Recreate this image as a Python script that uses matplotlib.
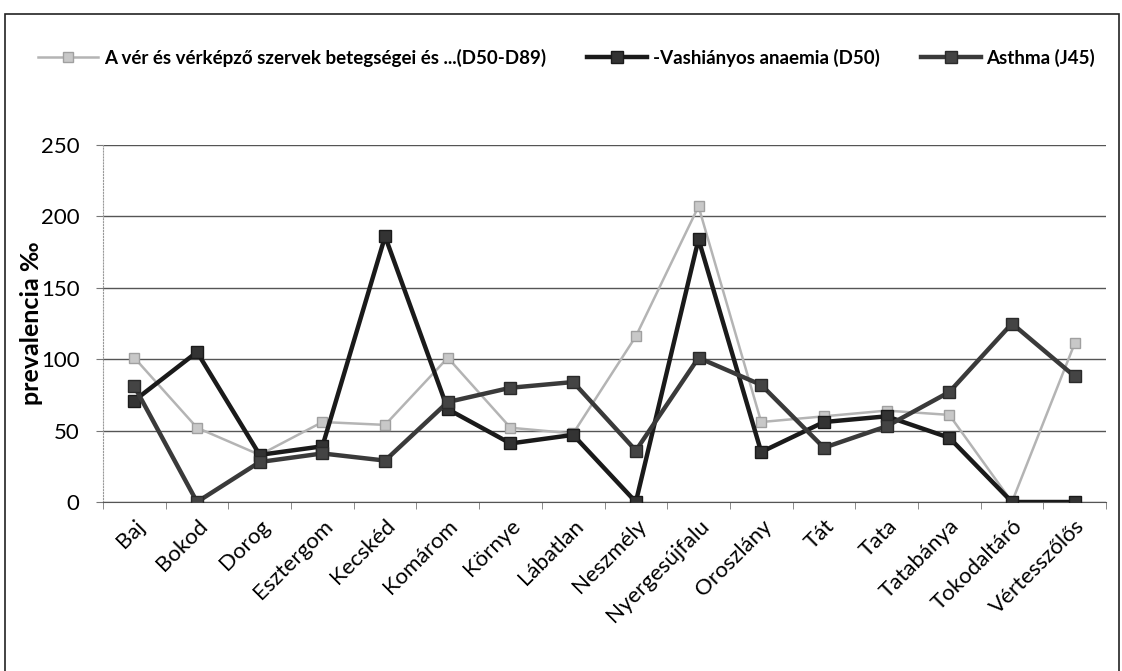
import matplotlib
matplotlib.use("Agg")
import matplotlib.pyplot as plt
import matplotlib.transforms as mtransforms
from matplotlib.patches import Rectangle

# településenkénti prevalencia (‰)
telepulesek = ["Baj", "Bokod", "Dorog", "Esztergom", "Kecskéd", "Komárom",
               "Környe", "Lábatlan", "Neszmély", "Nyergesújfalu", "Oroszlány",
               "Tát", "Tata", "Tatabánya", "Tokodaltáró", "Vértesszőlős"]

ver_betegsegek = [101, 52, 33, 56, 54, 101, 52, 48, 116, 207, 56, 60, 64, 61, 0, 111]
vashianyos = [71, 105, 33, 39, 186, 65, 41, 47, 0, 184, 35, 56, 60, 45, 0, 0]
asthma = [81, 0, 28, 34, 29, 70, 80, 84, 36, 101, 82, 38, 53, 77, 125, 88]

nevek = ["A vér és vérképző szervek betegségei és ...(D50-D89)",
         "-Vashiányos anaemia (D50)",
         "Asthma (J45)"]

plt.rcParams["font.family"] = ["Lato", "DejaVu Sans"]

fig = plt.figure(figsize=(11.22, 6.71), dpi=100)
ax = fig.add_axes([103 / 1122, 1 - 502 / 671, (1106 - 103) / 1122, (502 - 145) / 671])

x = range(len(telepulesek))
ax.plot(x, ver_betegsegek, color="#b4b4b4", lw=1.8, marker="s", ms=7,
        mec="#a0a0a0", mfc="#c8c8c8", label=nevek[0], zorder=3)
ax.plot(x, vashianyos, color="#1a1a1a", lw=3.2, marker="s", ms=8.5,
        mec="#1a1a1a", mfc="#333333", label=nevek[1], zorder=4)
ax.plot(x, asthma, color="#3a3a3a", lw=3.2, marker="s", ms=8.5,
        mec="#2a2a2a", mfc="#444444", label=nevek[2], zorder=4)

ax.set_xlim(-0.5, len(telepulesek) - 0.5)
ax.set_ylim(0, 250)
ax.set_yticks([0, 50, 100, 150, 200, 250])
ax.yaxis.grid(True, color="#555555", lw=1)
ax.set_axisbelow(True)

ax.set_xticks(list(x))
ax.set_xticklabels(telepulesek, rotation=45, ha="right", rotation_mode="anchor",
                   fontsize=16)
# a ferde feliratokat kicsit jobbra toljuk
eltolas = mtransforms.ScaledTranslation(8 / 100, 0, fig.dpi_scale_trans)
for lbl in ax.get_xticklabels():
    lbl.set_transform(lbl.get_transform() + eltolas)
ax.set_xticks([i - 0.5 for i in range(len(telepulesek) + 1)], minor=True)
ax.tick_params(axis="x", which="major", length=0, pad=10)
ax.tick_params(axis="x", which="minor", length=5, color="#777777")
ax.tick_params(axis="y", labelsize=16, length=5, color="#777777", pad=12)

for side in ["top", "right"]:
    ax.spines[side].set_visible(False)
ax.spines["left"].set_color("#999999")
ax.spines["left"].set_linestyle(":")
ax.spines["bottom"].set_color("#555555")

ax.set_ylabel("prevalencia ‰", fontsize=18, fontweight="bold", labelpad=0)
ax.yaxis.set_label_coords(-0.06, 0.5)

fig.legend(loc="center", bbox_to_anchor=(0.505, 1 - 58 / 671), ncol=3,
           frameon=False, handlelength=3.2, columnspacing=2.2,
           handletextpad=0.3,
           prop={"family": ["Liberation Sans Narrow", "Lato"],
                 "weight": "bold", "size": 13.5})

# kerület a teljes ábra körül
fig.patches.append(Rectangle((5 / 1122, -0.01), 1 - 8 / 1122, 1 - 14 / 671 + 0.01,
                             transform=fig.transFigure, fill=False,
                             edgecolor="#222222", lw=1.2))

fig.savefig("out.png", dpi=100)
